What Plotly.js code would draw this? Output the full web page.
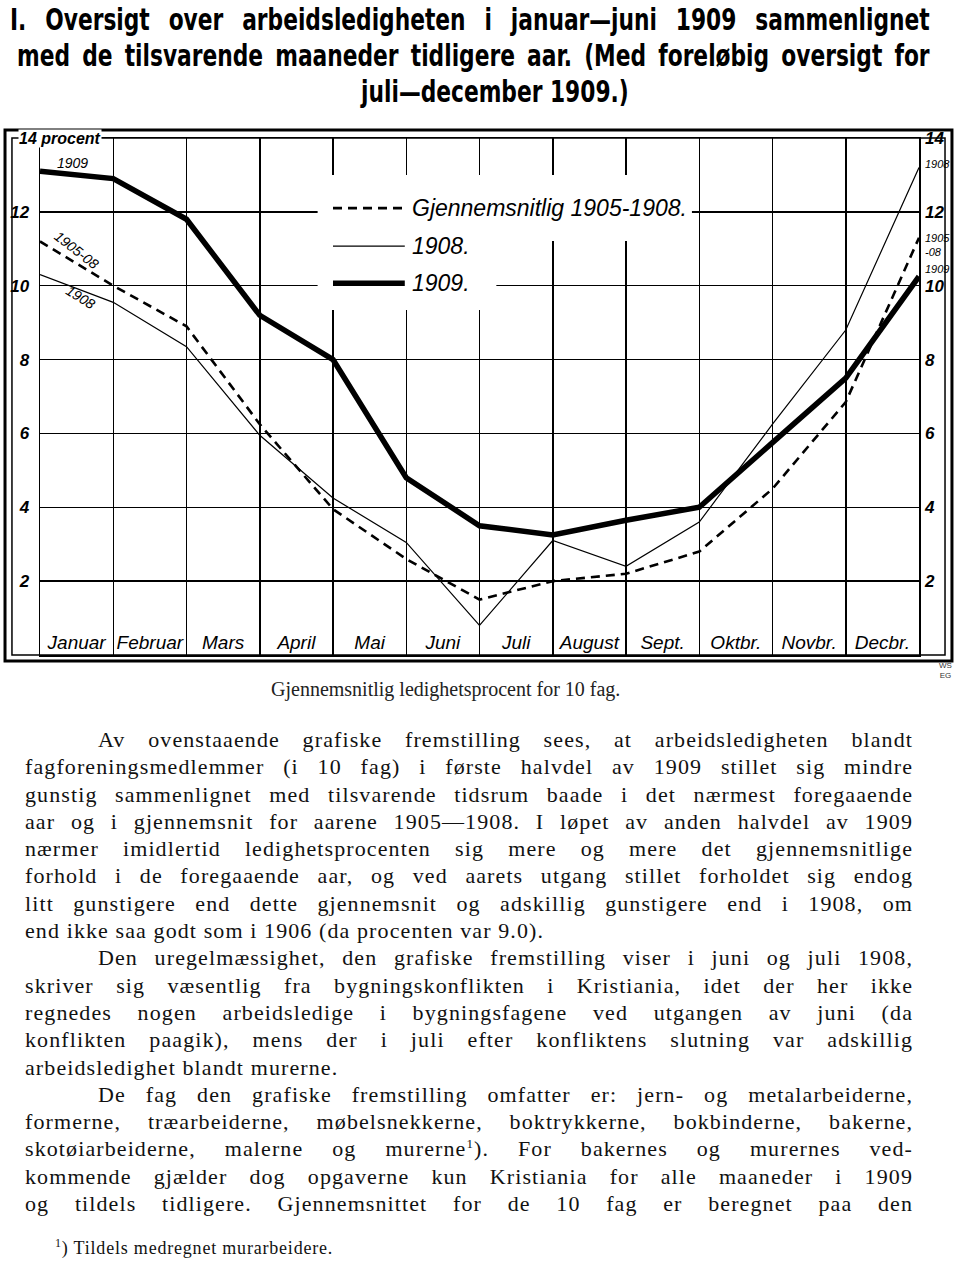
<!DOCTYPE html>
<html><head><meta charset="utf-8">
<script src="https://cdn.plot.ly/plotly-3.0.1.min.js"></script>
<style>
html,body{margin:0;padding:0;background:#fff;}
body{width:960px;height:1265px;position:relative;overflow:hidden;}
#chart{position:absolute;left:0;top:0;width:960px;height:720px;}
.tl{position:absolute;white-space:nowrap;font-family:'DejaVu Sans Condensed','DejaVu Sans',sans-serif;font-weight:bold;font-size:31px;line-height:36px;color:#000;transform-origin:0 0;transform:scaleX(0.78);z-index:5;}
.just{text-align:justify;text-align-last:justify;white-space:normal;}
.txt{position:absolute;left:25px;top:726px;width:888px;font-family:'Liberation Serif','DejaVu Serif',serif;font-size:22px;color:#111;letter-spacing:1.1px;z-index:5;}
.txt div{height:27.3px;line-height:27.3px;text-align:justify;text-align-last:justify;}
.txt div.ind{padding-left:73px;}
.txt div.last{text-align-last:left;}
.fn{position:absolute;left:55px;top:1238px;font-family:'Liberation Serif','DejaVu Serif',serif;font-size:18px;color:#111;letter-spacing:0.8px;}
</style></head>
<body>
<div id="chart"></div>
<div class="tl just" style="left:10px;top:1px;width:1179px;">I. Oversigt over arbeidsledigheten i januar—juni 1909 sammenlignet</div>
<div class="tl just" style="left:17px;top:37px;width:1170px;">med de tilsvarende maaneder tidligere aar. (Med foreløbig oversigt for</div>
<div class="tl" style="left:195px;top:73px;width:769px;text-align:center;">juli—december 1909.)</div>
<div class="txt">
<div class="ind">Av ovenstaaende grafiske fremstilling sees, at arbeidsledigheten blandt</div>
<div>fagforeningsmedlemmer (i 10 fag) i første halvdel av 1909 stillet sig mindre</div>
<div>gunstig sammenlignet med tilsvarende tidsrum baade i det nærmest foregaaende</div>
<div>aar og i gjennemsnit for aarene 1905—1908. I løpet av anden halvdel av 1909</div>
<div>nærmer imidlertid ledighetsprocenten sig mere og mere det gjennemsnitlige</div>
<div>forhold i de foregaaende aar, og ved aarets utgang stillet forholdet sig endog</div>
<div>litt gunstigere end dette gjennemsnit og adskillig gunstigere end i 1908, om</div>
<div class="last">end ikke saa godt som i 1906 (da procenten var 9.0).</div>
<div class="ind">Den uregelmæssighet, den grafiske fremstilling viser i juni og juli 1908,</div>
<div>skriver sig væsentlig fra bygningskonflikten i Kristiania, idet der her ikke</div>
<div>regnedes nogen arbeidsledige i bygningsfagene ved utgangen av juni (da</div>
<div>konflikten paagik), mens der i juli efter konfliktens slutning var adskillig</div>
<div class="last">arbeidsledighet blandt murerne.</div>
<div class="ind">De fag den grafiske fremstilling omfatter er: jern- og metalarbeiderne,</div>
<div>formerne, træarbeiderne, møbelsnekkerne, boktrykkerne, bokbinderne, bakerne,</div>
<div>skotøiarbeiderne, malerne og murerne<sup style="font-size:13px;line-height:0">1</sup>). For bakernes og murernes ved-</div>
<div>kommende gjælder dog opgaverne kun Kristiania for alle maaneder i 1909</div>
<div>og tildels tidligere. Gjennemsnittet for de 10 fag er beregnet paa den</div>
</div>
<div class="fn"><sup style="font-size:12px;line-height:0">1</sup>) Tildels medregnet murarbeidere.</div>
<script>
// ---- data ----
const months = ['Januar','Februar','Mars','April','Mai','Juni','Juli','August','Sept.','Oktbr.','Novbr.','Decbr.'];
const xPoints = [0,1,2,3,4,5,6,7,8,9,10,11,12];
const avg1905_08 = [11.2,10.0,8.9,6.25,3.95,2.6,1.5,2.0,2.2,2.8,4.5,6.85,11.3];
const y1908 = [10.3,9.55,8.35,5.95,4.25,3.05,0.8,3.1,2.4,3.6,6.25,8.8,13.2];
const y1909 = [13.1,12.9,11.8,9.2,8.0,4.8,3.5,3.25,3.65,4.0,5.75,7.5,10.25];
const seriesNames = ['Gjennemsnitlig 1905-1908.','1908.','1909.'];
const yTicksLeft = [0,2,4,6,8,10,12];
const yTicksRight = [0,2,4,6,8,10,12,14];
const yUnitLabel = '14 procent';
const caption = 'Gjennemsnitlig ledighetsprocent for 10 fag.';

// ---- styles ----
const hand = 'Liberation Sans, Arial, sans-serif';
const styles = [
  {color:'#000', width:2.6, dash:'9px,6px'},
  {color:'#000', width:1.2},
  {color:'#000', width:5.5}
];
const seriesData = [avg1905_08, y1908, y1909];

const traces = seriesData.map((ys,i)=>({
  x:xPoints, y:ys, type:'scatter', mode:'lines', name:seriesNames[i],
  line:styles[i], hoverinfo:'skip'
}));

const shapes = [];
const annotations = [];

// white patch behind legend (covers grid only)
shapes.push({type:'rect', xref:'x', yref:'y', x0:3.79, x1:8.9, y0:11.21, y1:13.0, fillcolor:'#fff', line:{width:0}, layer:'between'});
shapes.push({type:'rect', xref:'x', yref:'y', x0:3.79, x1:6.23, y0:9.34, y1:11.22, fillcolor:'#fff', line:{width:0}, layer:'between'});

// legend samples + text
const legY = [12.1, 11.07, 10.07];
seriesNames.forEach((n,i)=>{
  shapes.push({type:'line', xref:'x', yref:'y', x0:4.0, x1:4.98, y0:legY[i], y1:legY[i], line:styles[i], layer:'above'});
  annotations.push({xref:'x', yref:'y', x:5.05, y:legY[i], text:n, showarrow:false, xanchor:'left', yanchor:'middle',
    font:{family:hand, size:23, style:'italic', color:'#000'}});
});

// frames
shapes.push({type:'rect', xref:'paper', yref:'paper', x0:-0.0398, x1:1.0375, y0:-0.0116, y1:1.0155, line:{color:'#000', width:3}, layer:'above'});
shapes.push({type:'rect', xref:'paper', yref:'paper', x0:-0.0319, x1:1.0296, y0:0, y1:1, line:{color:'#000', width:1.5}, layer:'above'});

// unit label
annotations.push({xref:'paper', yref:'paper', x:-0.025, y:1, text:yUnitLabel, showarrow:false, xanchor:'left', yanchor:'middle',
  bgcolor:'#fff', borderpad:0, font:{family:hand, size:16, style:'italic', weight:'bold', color:'#000'}});

// line labels on left
annotations.push({xref:'x', yref:'y', x:0.45, y:13.32, text:'1909', showarrow:false, font:{family:hand, size:14, style:'italic', color:'#000'}});
annotations.push({xref:'x', yref:'y', x:0.5, y:10.97, text:'1905-08', showarrow:false, textangle:38, font:{family:hand, size:14, style:'italic', color:'#000'}});
annotations.push({xref:'x', yref:'y', x:0.55, y:9.69, text:'1908', showarrow:false, textangle:32, font:{family:hand, size:14, style:'italic', color:'#000'}});

// line labels on right
const rx = 1.0045;
annotations.push({xref:'paper', yref:'y', x:rx, y:13.3, text:'1908', showarrow:false, xanchor:'left', font:{family:hand, size:11, style:'italic', color:'#000'}});
annotations.push({xref:'paper', yref:'y', x:rx, y:11.1, text:'1905<br>-08', showarrow:false, xanchor:'left', align:'left', font:{family:hand, size:11, style:'italic', color:'#000'}});
annotations.push({xref:'paper', yref:'y', x:rx, y:10.45, text:'1909', showarrow:false, xanchor:'left', font:{family:hand, size:11, style:'italic', color:'#000'}});

// caption
annotations.push({xref:'paper', yref:'paper', x:0.4608, y:-0.0658, text:caption, showarrow:false, xanchor:'center', yanchor:'middle',
  font:{family:'Liberation Serif, serif', size:20, color:'#222'}});
annotations.push({xref:'paper', yref:'paper', x:1.03, y:-0.03, text:'WS<br>EG', showarrow:false, xanchor:'center', yanchor:'middle',
  font:{family:hand, size:8, color:'#333'}});

const tickFont = {family:hand, size:17, style:'italic', weight:'bold', color:'#000'};

const layout = {
  width:960, height:720,
  paper_bgcolor:'#fff', plot_bgcolor:'#fff',
  margin:{l:40, r:41, t:138, b:65, pad:0},
  showlegend:false,
  xaxis:{
    range:[0,12], tickmode:'array', tickvals:months.map((m,i)=>i+0.5), ticktext:months,
    ticklabelposition:'inside', ticks:'', showgrid:false, zeroline:false,
    showline:true, mirror:true, linecolor:'#000', linewidth:1.5,
    tickfont:{family:hand, size:19, style:'italic', color:'#000'}, ticklabelstandoff:3,
    minor:{tick0:0, dtick:1, showgrid:true, gridcolor:'#000', gridwidth:1.5, ticks:''},
    fixedrange:true
  },
  yaxis:{
    range:[0,14], tickmode:'array', tickvals:yTicksLeft, ticks:'', showgrid:true, gridcolor:'#000', gridwidth:1.3,
    zeroline:false, showline:true, mirror:true, linecolor:'#000', linewidth:1.5, tickfont:tickFont, ticklabelstandoff:6,
    fixedrange:true
  },
  yaxis2:{
    range:[0,14], overlaying:'y', side:'right', tickmode:'array', tickvals:yTicksRight, ticks:'', showgrid:false,
    zeroline:false, showline:false, tickfont:tickFont, ticklabelstandoff:5, fixedrange:true
  },
  shapes:shapes,
  annotations:annotations
};
// invisible helper trace to activate right axis
traces.push({x:[0], y:[0], yaxis:'y2', mode:'markers', marker:{opacity:0}, hoverinfo:'skip', showlegend:false});

Plotly.newPlot('chart', traces, layout, {staticPlot:true, displayModeBar:false});
</script>
</body></html>
